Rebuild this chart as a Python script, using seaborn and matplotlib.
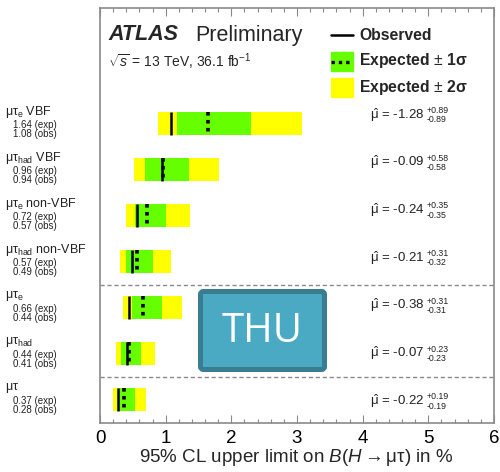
import matplotlib
matplotlib.use("Agg")
import matplotlib.pyplot as plt
from matplotlib.patches import Rectangle, FancyBboxPatch
from matplotlib.lines import Line2D
import numpy as np
import pandas as pd
import seaborn as sns

# ---------------- data ----------------
channel_labels = [r"$\mathrm{\mu\tau_{e}}$ VBF", r"$\mathrm{\mu\tau_{had}}$ VBF",
                  r"$\mathrm{\mu\tau_{e}}$ non-VBF", r"$\mathrm{\mu\tau_{had}}$ non-VBF",
                  r"$\mathrm{\mu\tau_{e}}$", r"$\mathrm{\mu\tau_{had}}$", r"$\mathrm{\mu\tau}$"]
expected = [1.64, 0.96, 0.72, 0.57, 0.66, 0.44, 0.37]
observed = [1.08, 0.94, 0.57, 0.49, 0.44, 0.41, 0.28]
minus2 = [0.88, 0.52, 0.40, 0.31, 0.355, 0.24, 0.20]
minus1 = [1.18, 0.69, 0.54, 0.39, 0.48, 0.315, 0.28]
plus1 = [2.30, 1.35, 1.00, 0.81, 0.94, 0.62, 0.54]
plus2 = [3.07, 1.81, 1.37, 1.08, 1.25, 0.83, 0.70]
mu_hat = ["-1.28", "-0.09", "-0.24", "-0.21", "-0.38", "-0.07", "-0.22"]
mu_up = ["+0.89", "+0.58", "+0.35", "+0.31", "+0.31", "+0.23", "+0.19"]
mu_dn = ["-0.89", "-0.58", "-0.35", "-0.32", "-0.31", "-0.23", "-0.19"]
x_ticks = [0, 1, 2, 3, 4, 5, 6]

df = pd.DataFrame({"label": channel_labels, "exp": expected, "obs": observed,
                   "m2": minus2, "m1": minus1, "p1": plus1, "p2": plus2})
df["row"] = np.arange(len(df))

# ---------------- style ----------------
sns.set_theme(style="white")
plt.rcParams["font.family"] = ["Liberation Sans", "DejaVu Sans"]
plt.rcParams["mathtext.fontset"] = "custom"
plt.rcParams["mathtext.rm"] = "Liberation Sans"
plt.rcParams["mathtext.it"] = "Liberation Sans:italic"
plt.rcParams["mathtext.bf"] = "Liberation Sans:bold"
plt.rcParams["axes.unicode_minus"] = False

W, H = 500, 472
fig = plt.figure(figsize=(W / 100, H / 100), dpi=100)
ax = fig.add_axes([100 / W, 1 - 423 / H, 394 / W, 415 / H])

YELLOW = "#ffff00"
GREEN = "#66ff00"
GRAY = "#8a8a8a"
TXT = "#222222"
bar_h = 0.5

# 2 sigma and 1 sigma bands
ax.barh(df["row"], df["p2"] - df["m2"], left=df["m2"], height=bar_h,
        color=YELLOW, edgecolor="none", zorder=2)
ax.barh(df["row"], df["p1"] - df["m1"], left=df["m1"], height=bar_h,
        color=GREEN, edgecolor="none", zorder=3)
# observed and expected markers
ax.vlines(df["obs"], df["row"] - bar_h / 2, df["row"] + bar_h / 2,
          colors="black", linewidth=1.8, zorder=4)
ax.vlines(df["exp"], df["row"] - bar_h / 2, df["row"] + bar_h / 2,
          colors="black", linewidth=2.6, linestyles=(0, (1, 1.2)), zorder=5)

# separators
for ysep in [3.5, 5.5]:
    ax.axhline(ysep, color=GRAY, linewidth=1.0, linestyle=(0, (3, 2)), zorder=1)

ax.set_xlim(0, 6)
ax.set_ylim(6.5, -2.52)
ax.set_xticks(x_ticks)
ax.set_xticklabels([str(t) for t in x_ticks], fontsize=13.5)
ax.set_xticks(np.arange(0, 6.01, 0.2), minor=True)
ax.set_yticks([])
ax.tick_params(axis="x", which="both", direction="in", top=True, bottom=True,
               colors=GRAY, labelcolor="black", pad=5)
ax.tick_params(axis="x", which="major", length=6, width=0.8)
ax.tick_params(axis="x", which="minor", length=3, width=0.8)
for sp in ax.spines.values():
    sp.set_color(GRAY)
    sp.set_linewidth(1.2)
ax.set_xlabel(r"95% CL upper limit on $\it{B}(\it{H} \rightarrow \mathrm{\mu\tau})$ in %",
              fontsize=13.5, labelpad=0)
ax.xaxis.label.set_va("center")
ax.xaxis.set_label_coords(0.497, -0.082)

# left-hand labels
for i, r in df.iterrows():
    ax.text(-1.44, r["row"] - 0.27, r["label"], fontsize=9, ha="left", va="center",
            clip_on=False, color=TXT)
    ax.text(-1.33, r["row"] + 0.03, f"{r['exp']:.2f} (exp)", fontsize=7, ha="left",
            va="center", clip_on=False, color=TXT)
    ax.text(-1.33, r["row"] + 0.22, f"{r['obs']:.2f} (obs)", fontsize=7, ha="left",
            va="center", clip_on=False, color=TXT)

# right-hand mu-hat labels
for i in range(len(df)):
    t = ax.text(4.11, i * 1.037 - 0.2, r"$\hat{\mathrm{\mu}}$ = " + mu_hat[i],
                fontsize=9.5, ha="left", va="center", color=TXT)
    ax.annotate(mu_up[i], xy=(1, 0.5), xycoords=t, xytext=(1.5, 3.0),
                textcoords="offset points", fontsize=6.3, ha="left", va="center", color=TXT)
    ax.annotate(mu_dn[i], xy=(1, 0.5), xycoords=t, xytext=(1.5, -3.6),
                textcoords="offset points", fontsize=6.3, ha="left", va="center", color=TXT)

# header
def fx(px):
    return px / W

def fy(py):
    return 1 - py / H

fig.text(fx(108), fy(35), "ATLAS", fontsize=15.5, fontweight="bold", style="italic",
         ha="left", va="center")
fig.text(fx(195), fy(35), "Preliminary", fontsize=15.5, ha="left", va="center")
fig.text(fx(108), fy(62), r"$\sqrt{s}$ = 13 TeV, 36.1 fb$^{-1}$", fontsize=10,
         ha="left", va="center")

# legend
fig.add_artist(Line2D([fx(331), fx(353)], [fy(35), fy(35)], color="black", linewidth=1.8))
fig.add_artist(Rectangle((fx(331), fy(71)), fx(22), 19 / H, color=GREEN,
                         transform=fig.transFigure))
fig.add_artist(Line2D([fx(331), fx(353)], [fy(61.5), fy(61.5)], color="black",
                      linewidth=2.4, linestyle=(0, (1, 1.2))))
fig.add_artist(Rectangle((fx(331), fy(97)), fx(22), 19 / H, color=YELLOW,
                         transform=fig.transFigure))
for yy, txt in [(35, "Observed"), (61, "Expected $\\pm$ 1σ"), (87, "Expected $\\pm$ 2σ")]:
    fig.text(fx(359), fy(yy), txt, fontsize=11.3, fontweight="bold", ha="left", va="center")

# THU badge
badge = FancyBboxPatch((2.005, 1.025), 1.24, 0.78,
                       boxstyle="round,pad=0,rounding_size=0.03",
                       transform=fig.dpi_scale_trans, facecolor="#4aaac4",
                       edgecolor="#3a7d90", linewidth=3.6, zorder=10)
fig.add_artist(badge)
fig.text(2.62, 1.40, "THU", transform=fig.dpi_scale_trans, fontsize=29,
         family="Open Sans", color="white", ha="center", va="center", zorder=11)

fig.savefig("out.png", dpi=100)
